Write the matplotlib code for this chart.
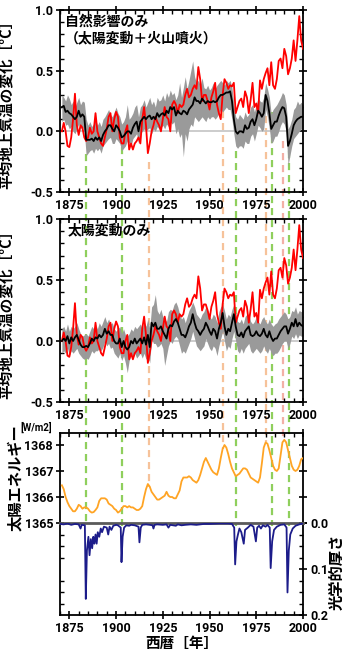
import numpy as np
import matplotlib
matplotlib.use("Agg")
import matplotlib.pyplot as plt
from matplotlib.ticker import MultipleLocator, FormatStrFormatter
from matplotlib.transforms import blended_transform_factory
from matplotlib.lines import Line2D

plt.rcParams['font.family'] = ['Roboto', 'Noto Sans CJK JP', 'DejaVu Sans']
plt.rcParams['font.weight'] = 'bold'
JP = ['Noto Sans CJK JP', 'DejaVu Sans']

years = np.arange(1871, 2001)

# observed temperature anomaly (red)
obs = [
    0.00, 0.07, 0.00, -0.12, -0.13, -0.05, 0.10, 0.31, 0.05, -0.03,
    0.05, 0.03, -0.05, -0.08, -0.05, 0.03, -0.02, 0.00, 0.15, 0.00,
    -0.05, -0.10, -0.12, -0.05, 0.02, 0.12, 0.15, 0.00, 0.10, 0.16,
    0.12, -0.05, -0.10, -0.10, 0.00, 0.05, -0.15, -0.10, -0.15, -0.10,
    -0.08, -0.05, -0.10, 0.10, 0.20, 0.05, -0.18, -0.10, 0.00, 0.05,
    0.12, 0.08, 0.05, 0.00, 0.10, 0.20, 0.12, 0.10, 0.00, 0.22,
    0.25, 0.22, 0.15, 0.22, 0.20, 0.22, 0.30, 0.35, 0.28, 0.30,
    0.35, 0.38, 0.35, 0.53, 0.43, 0.25, 0.30, 0.30, 0.25, 0.18,
    0.28, 0.33, 0.40, 0.22, 0.15, 0.10, 0.30, 0.43, 0.40, 0.35,
    0.38, 0.37, 0.40, 0.15, 0.20, 0.25, 0.27, 0.20, 0.33, 0.28,
    0.15, 0.26, 0.40, 0.20, 0.23, 0.15, 0.42, 0.35, 0.43, 0.48,
    0.52, 0.38, 0.57, 0.38, 0.35, 0.43, 0.58, 0.60, 0.52, 0.68,
    0.62, 0.47, 0.52, 0.60, 0.75, 0.58, 0.75, 0.95, 0.75, 0.68]

# natural forcing ensemble (solar + volcanic)
nat_mean = [
    0.20, 0.21, 0.16, 0.17, 0.15, 0.14, 0.12, 0.10, 0.12, 0.17,
    0.12, 0.14, 0.12, -0.07, -0.07, -0.07, -0.06, -0.08, -0.05, -0.07,
    -0.05, -0.08, -0.03, 0.00, 0.02, 0.05, 0.05, 0.02, 0.00, 0.05,
    0.03, 0.00, -0.05, -0.04, -0.02, 0.00, 0.00, -0.02, 0.03, 0.06,
    0.08, 0.00, 0.08, 0.10, 0.12, 0.10, 0.12, 0.13, 0.10, 0.12,
    0.10, 0.15, 0.12, 0.14, 0.15, 0.13, 0.17, 0.15, 0.20, 0.18,
    0.20, 0.13, 0.17, 0.15, 0.14, 0.17, 0.16, 0.14, 0.18, 0.20,
    0.22, 0.28, 0.25, 0.25, 0.23, 0.27, 0.25, 0.23, 0.25, 0.24,
    0.24, 0.25, 0.24, 0.25, 0.28, 0.30, 0.30, 0.31, 0.32, 0.32,
    0.33, 0.25, 0.10, 0.00, -0.02, 0.00, 0.00, -0.01, 0.05, 0.02,
    0.03, 0.08, 0.10, 0.05, 0.10, 0.17, 0.15, 0.12, 0.15, 0.30,
    0.25, 0.15, 0.02, 0.05, 0.08, 0.08, 0.13, 0.17, 0.20, 0.19,
    0.12, -0.12, -0.08, -0.02, 0.05, 0.08, 0.10, 0.11, 0.12, 0.12]
nat_hi = [
    0.30, 0.28, 0.25, 0.30, 0.27, 0.22, 0.25, 0.20, 0.24, 0.28,
    0.22, 0.25, 0.24, 0.10, 0.05, 0.08, 0.04, 0.06, 0.10, 0.05,
    0.08, 0.04, 0.10, 0.12, 0.15, 0.18, 0.14, 0.12, 0.16, 0.20,
    0.15, 0.12, 0.06, 0.08, 0.12, 0.22, 0.10, 0.12, 0.15, 0.20,
    0.22, 0.12, 0.20, 0.22, 0.26, 0.20, 0.24, 0.28, 0.22, 0.25,
    0.20, 0.28, 0.25, 0.26, 0.30, 0.25, 0.32, 0.28, 0.34, 0.30,
    0.32, 0.26, 0.30, 0.40, 0.28, 0.36, 0.45, 0.35, 0.42, 0.50,
    0.58, 0.45, 0.40, 0.42, 0.38, 0.44, 0.36, 0.35, 0.38, 0.34,
    0.36, 0.40, 0.35, 0.38, 0.40, 0.42, 0.40, 0.38, 0.42, 0.40,
    0.42, 0.36, 0.22, 0.12, 0.10, 0.14, 0.12, 0.10, 0.16, 0.12,
    0.14, 0.20, 0.22, 0.16, 0.22, 0.28, 0.25, 0.24, 0.28, 0.40,
    0.35, 0.28, 0.14, 0.18, 0.20, 0.22, 0.25, 0.28, 0.32, 0.30,
    0.22, 0.02, 0.05, 0.10, 0.18, 0.20, 0.25, 0.22, 0.24, 0.22]
nat_lo = [
    0.08, 0.10, 0.05, 0.06, 0.02, 0.04, 0.00, -0.02, 0.02, 0.06,
    0.02, 0.04, 0.00, -0.20, -0.18, -0.16, -0.15, -0.18, -0.14, -0.16,
    -0.14, -0.18, -0.12, -0.10, -0.08, -0.06, -0.05, -0.10, -0.10, -0.06,
    -0.08, -0.10, -0.16, -0.14, -0.12, -0.08, -0.10, -0.12, -0.06, -0.04,
    -0.02, -0.10, -0.02, 0.00, 0.02, 0.00, 0.02, 0.03, -0.02, 0.02,
    0.00, 0.04, 0.02, 0.03, 0.05, 0.02, 0.06, 0.04, 0.08, 0.06,
    0.08, -0.02, 0.02, -0.05, -0.02, -0.21, -0.02, -0.08, 0.02, 0.06,
    0.04, 0.12, 0.10, 0.08, 0.10, 0.12, 0.10, 0.08, 0.12, 0.10,
    0.12, 0.12, 0.10, 0.12, 0.15, 0.18, 0.16, 0.18, 0.20, 0.18,
    0.18, 0.10, -0.02, -0.12, -0.14, -0.12, -0.12, -0.14, -0.08, -0.10,
    -0.10, -0.04, -0.02, -0.08, -0.02, 0.05, 0.03, 0.00, 0.02, 0.18,
    0.12, 0.02, -0.10, -0.08, -0.04, -0.04, 0.00, 0.05, 0.08, 0.06,
    0.00, -0.28, -0.20, -0.12, -0.06, -0.04, -0.02, 0.00, 0.02, 0.00]

# solar-only ensemble
sol_mean = [
    0.00, 0.02, 0.00, 0.04, -0.02, 0.03, 0.00, 0.03, 0.05, 0.01,
    -0.03, -0.05, -0.05, -0.04, -0.05, -0.02, 0.02, 0.00, 0.03, 0.02,
    0.05, 0.03, 0.05, 0.10, 0.06, 0.08, 0.05, 0.05, 0.00, -0.02,
    -0.02, 0.02, -0.05, 0.00, -0.05, -0.07, -0.05, 0.00, -0.02, 0.02,
    -0.02, 0.00, 0.02, -0.02, 0.03, -0.03, 0.05, -0.05, 0.15, 0.12,
    0.15, 0.10, 0.10, 0.12, 0.08, 0.05, 0.02, 0.10, 0.13, 0.12,
    0.16, 0.18, 0.15, 0.10, 0.05, 0.05, 0.03, 0.07, 0.12, 0.15,
    0.22, 0.15, 0.10, 0.08, 0.05, 0.08, 0.10, 0.15, 0.12, 0.08,
    0.05, 0.10, 0.08, 0.02, 0.10, 0.15, 0.23, 0.12, 0.05, 0.10,
    0.08, 0.15, 0.22, 0.12, 0.05, 0.04, 0.07, 0.03, 0.08, 0.10,
    0.12, 0.05, 0.04, 0.05, 0.08, 0.05, 0.04, 0.06, 0.10, 0.05,
    0.03, 0.08, 0.03, 0.00, 0.02, 0.02, 0.05, 0.08, 0.10, 0.12,
    0.12, 0.06, 0.10, 0.15, 0.12, 0.18, 0.12, 0.15, 0.13, 0.12]
sol_hi = [
    0.10, 0.12, 0.08, 0.14, 0.08, 0.12, 0.10, 0.12, 0.15, 0.10,
    0.06, 0.04, 0.05, 0.06, 0.04, 0.08, 0.12, 0.10, 0.14, 0.10,
    0.15, 0.12, 0.16, 0.20, 0.15, 0.18, 0.14, 0.15, 0.10, 0.08,
    0.10, 0.12, 0.06, 0.10, 0.05, 0.04, 0.06, 0.10, 0.08, 0.12,
    0.10, 0.12, 0.14, 0.10, 0.16, 0.12, 0.18, 0.10, 0.28, 0.30,
    0.38, 0.25, 0.22, 0.26, 0.20, 0.18, 0.16, 0.24, 0.26, 0.25,
    0.30, 0.32, 0.28, 0.22, 0.18, 0.20, 0.15, 0.20, 0.25, 0.28,
    0.32, 0.28, 0.22, 0.20, 0.18, 0.22, 0.24, 0.28, 0.25, 0.20,
    0.18, 0.22, 0.20, 0.15, 0.24, 0.28, 0.30, 0.25, 0.18, 0.22,
    0.20, 0.26, 0.30, 0.24, 0.16, 0.15, 0.18, 0.14, 0.20, 0.22,
    0.22, 0.16, 0.14, 0.16, 0.20, 0.16, 0.14, 0.18, 0.20, 0.16,
    0.14, 0.18, 0.14, 0.12, 0.14, 0.15, 0.18, 0.20, 0.22, 0.24,
    0.22, 0.18, 0.20, 0.25, 0.24, 0.28, 0.22, 0.25, 0.24, 0.26]
sol_lo = [
    -0.10, -0.08, -0.10, -0.06, -0.12, -0.08, -0.10, -0.08, -0.06, -0.10,
    -0.12, -0.14, -0.15, -0.14, -0.15, -0.12, -0.08, -0.10, -0.08, -0.08,
    -0.06, -0.08, -0.05, 0.00, -0.04, -0.02, -0.06, -0.05, -0.10, -0.12,
    -0.14, -0.10, -0.16, -0.12, -0.18, -0.26, -0.16, -0.12, -0.14, -0.10,
    -0.14, -0.12, -0.10, -0.14, -0.10, -0.15, -0.12, -0.18, 0.02, -0.02,
    -0.02, -0.05, -0.04, -0.02, -0.06, -0.20, -0.12, -0.04, 0.00, -0.02,
    0.02, 0.04, 0.02, -0.04, -0.10, -0.08, -0.10, -0.06, -0.02, 0.02,
    0.08, 0.02, -0.04, -0.06, -0.08, -0.06, -0.04, 0.02, -0.02, -0.06,
    -0.08, -0.04, -0.06, -0.12, -0.04, 0.02, 0.08, 0.00, -0.08, -0.04,
    -0.06, 0.02, 0.08, 0.00, -0.08, -0.10, -0.06, -0.10, -0.06, -0.04,
    -0.02, -0.08, -0.10, -0.08, -0.06, -0.08, -0.10, -0.08, -0.04, -0.08,
    -0.10, -0.06, -0.10, -0.12, -0.10, -0.10, -0.08, -0.05, -0.02, 0.00,
    0.00, -0.06, -0.02, 0.04, 0.02, 0.06, 0.02, 0.05, 0.04, 0.04]

# total solar irradiance [W/m2]
tsi = [
    1366.45, 1366.30, 1366.00, 1365.80, 1365.65, 1365.55, 1365.45, 1365.45, 1365.55, 1365.70,
    1365.65, 1365.55, 1365.60, 1365.60, 1365.55, 1365.45, 1365.40, 1365.42, 1365.50, 1365.60,
    1365.85, 1365.95, 1365.95, 1365.95, 1365.90, 1365.75, 1365.70, 1365.65, 1365.55, 1365.50,
    1365.40, 1365.45, 1365.55, 1365.65, 1365.65, 1365.60, 1365.65, 1365.60, 1365.60, 1365.55,
    1365.50, 1365.50, 1365.55, 1365.65, 1366.00, 1366.30, 1366.50, 1366.40, 1366.20, 1366.10,
    1366.00, 1365.90, 1365.90, 1365.95, 1366.00, 1366.05, 1366.20, 1366.05, 1366.00, 1366.00,
    1365.95, 1365.95, 1366.10, 1366.25, 1366.60, 1366.75, 1366.75, 1366.75, 1366.80, 1366.75,
    1366.65, 1366.60, 1366.55, 1366.65, 1366.85, 1367.10, 1367.35, 1367.50, 1367.35, 1367.20,
    1367.05, 1366.95, 1366.90, 1366.85, 1367.10, 1367.50, 1367.85, 1368.00, 1367.90, 1367.65,
    1367.35, 1367.10, 1366.95, 1366.80, 1366.85, 1366.90, 1367.00, 1367.10, 1367.10, 1367.05,
    1366.90, 1366.75, 1366.70, 1366.65, 1366.60, 1366.55, 1366.75, 1367.30, 1367.90, 1368.10,
    1368.05, 1367.80, 1367.50, 1367.20, 1367.05, 1367.00, 1367.10, 1367.60, 1368.10, 1368.20,
    1368.10, 1367.80, 1367.50, 1367.20, 1367.05, 1367.00, 1367.05, 1367.20, 1367.45, 1367.50]

# volcanic aerosol optical depth
aod_t = [1870, 1872, 1874, 1876, 1878, 1880, 1881, 1881.6, 1883.3, 1883.8, 1884.4, 1885.2,
         1885.8, 1886.5, 1887.2, 1887.8, 1888.4, 1889.0, 1889.6, 1890.2, 1891, 1891.8,
         1892.5, 1893.5, 1895, 1895.8, 1896.5, 1897.5, 1898.5, 1900, 1901, 1902.5, 1902.9,
         1903.5, 1904.3, 1905.5, 1907, 1908, 1910, 1912, 1912.5, 1913.2, 1914, 1916, 1918,
         1919.5, 1920, 1920.6, 1922, 1925, 1927, 1928, 1929, 1932, 1933, 1935, 1937, 1940,
         1943, 1947, 1950, 1955, 1960, 1962, 1963.2, 1963.7, 1964.4, 1965.2, 1966, 1967,
         1968.3, 1969, 1970.5, 1972, 1973.5, 1974.8, 1975.5, 1976.5, 1977.5, 1978.5, 1980,
         1981, 1982.2, 1982.7, 1983.5, 1984.5, 1986, 1988, 1990, 1991.2, 1991.7, 1992.4,
         1993.2, 1994.5, 1996, 1998, 2000]
aod_v = [0.002, 0.003, 0.001, 0.004, 0.002, 0.003, 0.012, 0.004, 0.005, 0.165, 0.06, 0.03,
         0.07, 0.035, 0.055, 0.03, 0.045, 0.025, 0.045, 0.02, 0.03, 0.012,
         0.02, 0.008, 0.01, 0.025, 0.008, 0.015, 0.006, 0.004, 0.005, 0.01, 0.085,
         0.03, 0.01, 0.005, 0.006, 0.004, 0.005, 0.008, 0.042, 0.01, 0.004, 0.003, 0.004,
         0.005, 0.012, 0.004, 0.003, 0.004, 0.003, 0.01, 0.004, 0.006, 0.003, 0.005, 0.004, 0.003,
         0.004, 0.002, 0.002, 0.001, 0.001, 0.002, 0.01, 0.09, 0.04, 0.025, 0.012, 0.02,
         0.045, 0.015, 0.01, 0.004, 0.008, 0.04, 0.01, 0.006, 0.012, 0.005, 0.008,
         0.004, 0.01, 0.098, 0.04, 0.015, 0.008, 0.004, 0.003, 0.01, 0.151, 0.06,
         0.025, 0.012, 0.006, 0.003, 0.001]

# events marked by dashed lines: year, colour, where the line starts in panel 1
volcano_years = [1883.9, 1903.2, 1964.2, 1983.2, 1992.3]
volcano_start = [-0.19, -0.13, -0.16, 0.16, -0.16]
solar_years = [1917.6, 1957.2, 1980.0, 1989.5]
solar_start = [-0.25, 0.17, 0.13, -0.08]
solar_colors = ['#f6c29a', '#f6c29a', '#f6c29a', '#f3b0a6']

W, H = 350, 654
fig = plt.figure(figsize=(W / 100, H / 100), dpi=100)
L, Wd = 60 / W, 243 / W
ax1 = fig.add_axes([L, 1 - 192 / H, Wd, 182 / H])
ax2 = fig.add_axes([L, 1 - 402 / H, Wd, 183 / H])
ax3 = fig.add_axes([L, 1 - 523 / H, Wd, 90 / H])
ax4 = fig.add_axes([L, 1 - 615 / H, Wd, 92 / H])

for ax in (ax1, ax2, ax3, ax4):
    ax.patch.set_visible(False)
    ax.set_xlim(1870, 2000)
    ax.xaxis.set_major_locator(MultipleLocator(25))
    ax.xaxis.set_minor_locator(MultipleLocator(5))
    ax.tick_params(which='major', direction='inout', length=6, width=1.2, labelsize=9, pad=2)
    ax.tick_params(which='minor', direction='in', length=3, width=1)
    for s in ax.spines.values():
        s.set_linewidth(1.3)

for ax, lo, hi, mean in ((ax1, nat_lo, nat_hi, nat_mean), (ax2, sol_lo, sol_hi, sol_mean)):
    ax.set_ylim(-0.5, 1.0)
    ax.yaxis.set_major_locator(MultipleLocator(0.5))
    ax.yaxis.set_minor_locator(MultipleLocator(0.1))
    ax.yaxis.set_major_formatter(FormatStrFormatter('%.1f'))
    ax.tick_params(which='both', top=True, right=True)
    ax.axhline(0, color='#c4c4c4', lw=1.2, zorder=1)
    ax.fill_between(years, lo, hi, color='#9a9a9a', lw=0, zorder=2)
    ax.plot(years, obs, color='red', lw=1.3, zorder=3)
    ax.plot(years, mean, color='black', lw=1.3, zorder=4)
    ax.set_ylabel('平均地上気温の変化［°C］', family=JP, fontsize=10.5, fontweight='bold')
    ax.yaxis.set_label_coords(-0.185, 0.5)

ax1.text(0.02, 0.975, '自然影響のみ\n（太陽変動＋火山噴火）', transform=ax1.transAxes,
         family=JP, fontsize=10, fontweight='bold', va='top', ha='left', linespacing=1.25)
ax2.text(0.03, 0.975, '太陽変動のみ', transform=ax2.transAxes,
         family=JP, fontsize=10, fontweight='bold', va='top', ha='left')

# solar irradiance panel
ax3.set_ylim(1365, 1365 + 90 / 26)
ax3.set_yticks([1365, 1366, 1367, 1368])
ax3.plot(years, tsi, color='#ffa424', lw=1.3, zorder=3)
ax3.spines['bottom'].set_visible(False)
ax3.tick_params(which='both', bottom=False, top=True, labelbottom=False, labeltop=False, right=True)

# aerosol optical depth panel
ax4.set_ylim(0.2, 0.0)
ax4.yaxis.set_major_locator(MultipleLocator(0.1))
ax4.yaxis.set_minor_locator(MultipleLocator(0.025))
ax4.yaxis.set_major_formatter(FormatStrFormatter('%.1f'))
ax4.tick_params(which='both', left=True, right=True, labelleft=False, labelright=True)
ax4.tick_params(axis='y', which='major', left=False)
ax4.plot(aod_t, aod_v, color='#1c1c8a', lw=1.3, zorder=3)
ax4.spines['top'].set_color('#5a5a5a')
ax4.spines['top'].set_linewidth(2)

fig.text(15 / W, 1 - 478 / H, '太陽エネルギー', family=JP, fontsize=11, fontweight='bold',
         rotation=90, ha='center', va='center')
fig.text(36 / W, 1 - 427 / H, '[W/m2]', fontsize=7, fontweight='bold', ha='center', va='center')
fig.text(337 / W, 1 - 572 / H, '光学的厚さ', family=JP, fontsize=11, fontweight='bold',
         rotation=90, ha='center', va='center')
ax4.set_xlabel('西暦［年］', family=JP, fontsize=10.5, fontweight='bold', labelpad=0)

# dashed event lines running down through all panels
to_fig = fig.transFigure.inverted()
xtrans = blended_transform_factory(ax1.transData, fig.transFigure)
y_zero = to_fig.transform(ax3.transData.transform((1870, 1365)))[1]
events = [(y, s, '#8fcf5c', None) for y, s in zip(volcano_years, volcano_start)]
events += [(y, s, c, 'tsi') for y, s, c in zip(solar_years, solar_start, solar_colors)]
for yr, start, col, stop in events:
    y0 = to_fig.transform(ax1.transData.transform((yr, start)))[1]
    if stop == 'tsi':
        y1 = to_fig.transform(ax3.transData.transform((yr, tsi[int(round(yr)) - 1871])))[1]
    else:
        y1 = y_zero - 0.004
    fig.add_artist(Line2D([yr, yr], [y0, y1], transform=xtrans, color=col, lw=1.6,
                          linestyle=(0, (3.2, 2.2)), zorder=-1))

fig.savefig('out.png', dpi=100)
